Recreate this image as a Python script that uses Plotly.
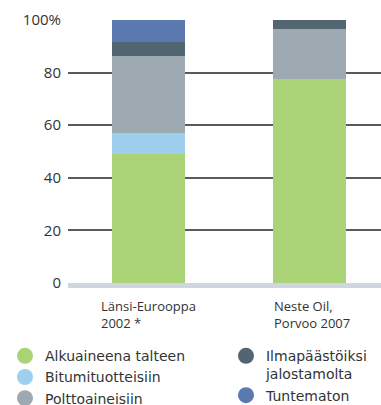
import plotly.graph_objects as go

# Where the sulphur ends up (share of total, %)
categories = ["Länsi-Eurooppa<br>2002 *", "Neste Oil,<br>Porvoo 2007"]
alkuaineena = [49.2, 77.6]
bitumi = [8.0, 0.0]
polttoaine = [29.1, 19.0]
ilmapaasto = [5.5, 3.4]
tuntematon = [8.2, 0.0]

tick_vals = [0, 20, 40, 60, 80, 100]
tick_text = ["0", "20", "40", "60", "80", "100%"]

series = [
    ("Alkuaineena talteen", alkuaineena, "#a9d376", "legend"),
    ("Bitumituotteisiin", bitumi, "#9ecfee", "legend"),
    ("Polttoaineisiin", polttoaine, "#9fa9b2", "legend"),
    ("Ilmapäästöiksi<br>jalostamolta", ilmapaasto, "#526672", "legend2"),
    ("Tuntematon", tuntematon, "#5a79b1", "legend2"),
]

FONT = "Open Sans, Liberation Sans, Arial, sans-serif"
LEGEND_FONT = "DejaVu Sans, Open Sans, sans-serif"
xpos = list(range(len(categories)))

fig = go.Figure()
for name, vals, color, leg in series:
    fig.add_trace(go.Bar(
        x=xpos, y=vals, name=name, marker=dict(color=color, line=dict(width=0)),
        width=0.453, showlegend=False, hoverinfo="skip",
    ))
for name, vals, color, leg in series:
    # round swatches for the legend; the point itself sits below the visible range
    fig.add_trace(go.Scatter(
        x=[0], y=[-50], mode="markers", name=name, legend=leg,
        marker=dict(color=color, size=16, symbol="circle"),
        hoverinfo="skip", cliponaxis=True,
    ))

for i, label in enumerate(categories):
    fig.add_annotation(
        x=i, y=0, xref="x", yref="paper", text=label, showarrow=False,
        xanchor="center", yanchor="top", align="left", yshift=-12,
        xshift=2 if i == 1 else 0,
        font=dict(family=FONT, size=13, color="#333333"),
    )

legend_style = dict(
    xref="container", yref="container", xanchor="left", yanchor="top",
    orientation="v", valign="top", itemwidth=30, tracegroupgap=0,
    traceorder="normal",
    font=dict(family=LEGEND_FONT, size=14, color="#333333"),
    bgcolor="rgba(0,0,0,0)", borderwidth=0,
)

fig.update_layout(
    width=381, height=405,
    margin=dict(l=68, r=0, t=20, b=122, autoexpand=False),
    barmode="stack",
    plot_bgcolor="white", paper_bgcolor="white",
    font=dict(family=FONT, color="#333333"),
    xaxis=dict(
        range=[-0.5, 1.444], showticklabels=False, showgrid=False,
        zeroline=False, showline=True, linecolor="#cfd6de", linewidth=5,
        fixedrange=True,
    ),
    yaxis=dict(
        range=[0, 100], tickvals=tick_vals, ticktext=tick_text,
        showgrid=True, gridcolor="#5a5a5a", gridwidth=1.5,
        zeroline=True, zerolinecolor="#b5b9be", zerolinewidth=1,
        ticks="", ticklabelstandoff=6,
        tickfont=dict(family=FONT, size=15, color="#333333"),
        fixedrange=True,
    ),
    legend=dict(x=5 / 381, y=0.16, **legend_style),
    legend2=dict(x=0.58 + 5 / 381, y=0.16, **legend_style),
)

fig.write_html("out.html")
